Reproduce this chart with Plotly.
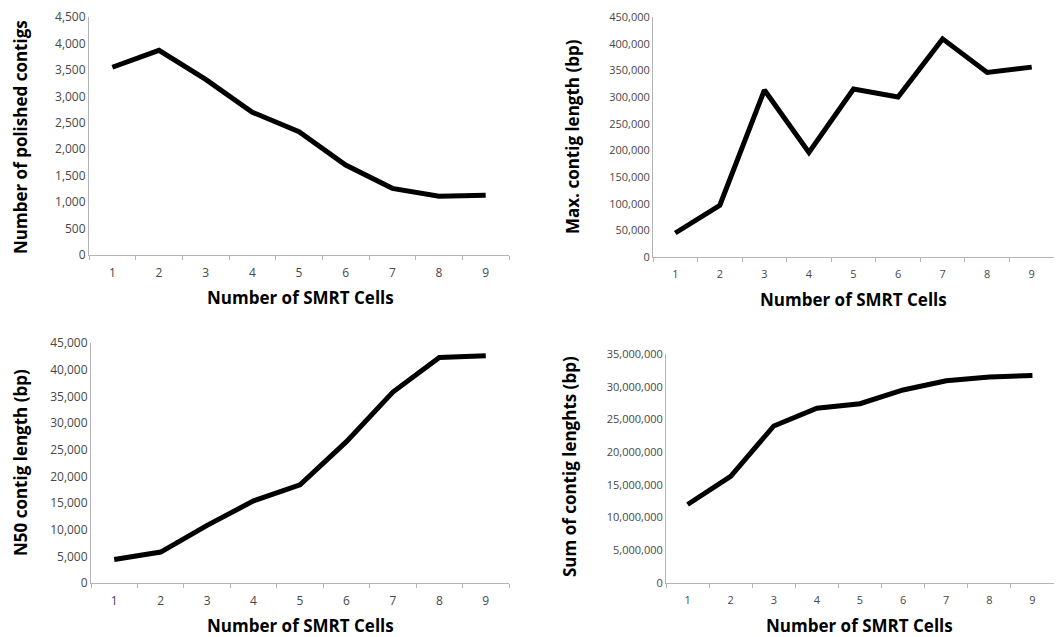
import plotly.graph_objects as go

cells = [1, 2, 3, 4, 5, 6, 7, 8, 9]
polished_contigs = [3550, 3870, 3320, 2700, 2330, 1700, 1260, 1110, 1130]
max_contig_len = [45000, 97000, 313000, 196000, 315000, 300000, 409000, 346000, 356000]
n50_len = [4400, 5800, 10800, 15400, 18400, 26500, 35800, 42300, 42600]
sum_len = [12000000, 16300000, 24000000, 26700000, 27400000, 29500000, 30900000, 31500000, 31700000]

x_title = "Number of SMRT Cells"
y_titles = ["Number of polished contigs", "Max. contig length (bp)",
            "N50 contig length (bp)", "Sum of contig lenghts (bp)"]
series = [polished_contigs, max_contig_len, n50_len, sum_len]
y_max = [4500, 450000, 45000, 35000000]
y_step = [500, 50000, 5000, 5000000]

W, H = 1062, 637
OFF = 8  # page body margin compensation
# pixel boxes (page coords): (x0, x1, ytop, ybottom)
boxes = [(89, 509, 17, 255), (653, 1054, 17, 257),
         (91, 509, 343, 583), (666, 1054, 354, 583)]
xtitle_pos = [(300, 297), (853, 299), (300, 625), (859, 625)]
ytitle_pos = [(20, 137), (572, 137), (20, 463), (570, 467)]
tick_size = [12, 11, 12, 11]

FONT = "Open Sans"
AXC = "#b4b4b4"
TICKC = "#474747"


def px(x):
    return (x - OFF) / W


def py(y):
    return 1 - (y - OFF) / H


fig = go.Figure()
layout = dict(width=W, height=H, margin=dict(l=0, r=0, t=0, b=0, autoexpand=False),
              template="none",
              paper_bgcolor="white", plot_bgcolor="white", showlegend=False,
              font=dict(family=FONT, color=TICKC, size=11))
annotations = []
for i in range(4):
    n = "" if i == 0 else str(i + 1)
    x0, x1, yt, yb = boxes[i]
    fig.add_trace(go.Scatter(x=cells, y=series[i], mode="lines",
                             line=dict(color="black", width=5),
                             xaxis="x" + n, yaxis="y" + n, hoverinfo="x+y"))
    layout["xaxis" + n] = dict(domain=[px(x0), px(x1)], anchor="y" + n,
                               range=[0.5, 9.5], tickvals=cells,
                               ticktext=[str(c) for c in cells],
                               ticks="outside", ticklen=7, tickcolor="rgba(0,0,0,0)",
                               showline=True, linecolor=AXC, linewidth=1,
                               showgrid=False, zeroline=False, automargin=False,
                               tickfont=dict(size=tick_size[i], color=TICKC),
                               minor=dict(ticks="outside", tick0=0.5, dtick=1,
                                          ticklen=4, tickcolor=AXC, showgrid=False))
    tv = list(range(0, y_max[i] + 1, y_step[i]))
    layout["yaxis" + n] = dict(domain=[py(yb), py(yt)], anchor="x" + n,
                               range=[0, y_max[i]], tickvals=tv,
                               ticktext=[f"{v:,}" for v in tv],
                               ticks="", showline=True, linecolor=AXC, linewidth=1,
                               showgrid=False, zeroline=False, automargin=False,
                               tickfont=dict(size=tick_size[i], color=TICKC))
    xp, yp = xtitle_pos[i]
    annotations.append(dict(text="<b>" + x_title + "</b>", x=px(xp), y=py(yp),
                            xref="paper", yref="paper", showarrow=False,
                            xanchor="center", yanchor="middle",
                            font=dict(family=FONT, size=17, color="black")))
    xp, yp = ytitle_pos[i]
    annotations.append(dict(text="<b>" + y_titles[i] + "</b>", x=px(xp), y=py(yp),
                            xref="paper", yref="paper", showarrow=False, textangle=-90,
                            xanchor="center", yanchor="middle",
                            font=dict(family=FONT, size=17, color="black")))
layout["annotations"] = annotations
fig.update_layout(**layout)
fig.write_html("out.html")
